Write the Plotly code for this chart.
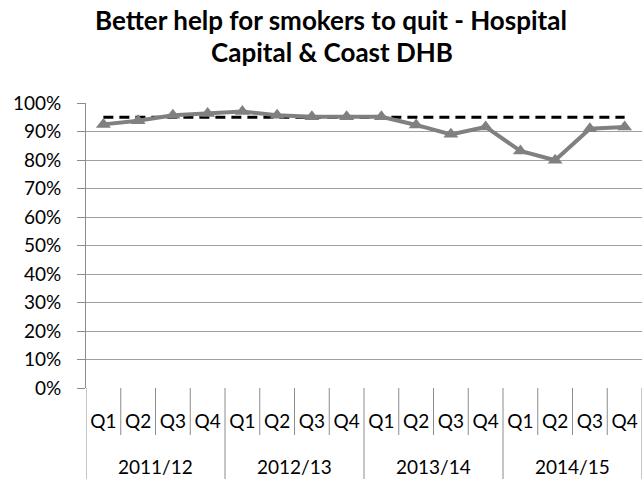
import plotly.graph_objects as go

years = ["2011/12", "2012/13", "2013/14", "2014/15"]
quarters = ["Q1", "Q2", "Q3", "Q4"]
values = [92.5, 93.8, 95.7, 96.3, 97.0, 95.7, 95.2, 95.2,
          95.2, 92.3, 89.0, 91.6, 83.2, 79.9, 91.0, 91.6]
target = [95] * 16
title_lines = ["Better help for smokers to quit - Hospital", "Capital & Coast DHB"]

n = len(years) * len(quarters)
xs = list(range(n))
qlabels = [q for y in years for q in quarters]

FONT = "Lato, Carlito, 'Open Sans', sans-serif"
GRID = "#a0a0a0"
AXIS = "#8c8c8c"

fig = go.Figure()
fig.add_trace(go.Scatter(
    x=xs, y=[v / 100 for v in target], mode="lines",
    line=dict(color="black", width=3, dash="10px,6px"),
    hoverinfo="skip", showlegend=False, cliponaxis=False))
fig.add_trace(go.Scatter(
    x=xs, y=[v / 100 for v in values], mode="lines+markers",
    line=dict(color="#808080", width=4),
    marker=dict(symbol="triangle-up", size=13, color="#808080"),
    showlegend=False, cliponaxis=False))

shapes = []
for k in range(n + 1):
    is_year = (k % len(quarters) == 0)
    shapes.append(dict(type="line", xref="x", yref="paper",
                       x0=k - 0.5, x1=k - 0.5, y0=0,
                       y1=-0.32 if is_year else -0.165,
                       line=dict(color=AXIS, width=1)))

annotations = []
for i, yr in enumerate(years):
    annotations.append(dict(text=yr, xref="x", yref="paper",
                            x=i * len(quarters) + (len(quarters) - 1) / 2, y=0,
                            yanchor="middle", yshift=-78, showarrow=False,
                            font=dict(family=FONT, size=19, color="#000")))
annotations.append(dict(text="<b>" + title_lines[0] + "</b>", xref="paper", yref="paper",
                        x=(331 - 86) / 556, y=1, yanchor="middle", yshift=83, showarrow=False,
                        font=dict(family=FONT, size=26, color="#000")))
annotations.append(dict(text="<b>" + title_lines[1] + "</b>", xref="paper", yref="paper",
                        x=(332 - 86) / 556, y=1, yanchor="middle", yshift=51, showarrow=False,
                        font=dict(family=FONT, size=26, color="#000")))

fig.update_layout(
    width=643, height=479,
    margin=dict(l=86, r=1, t=103, b=91),
    paper_bgcolor="white", plot_bgcolor="white",
    shapes=shapes, annotations=annotations,
    xaxis=dict(range=[-0.5, n - 0.5], tickmode="array", tickvals=xs, ticktext=qlabels,
               showgrid=False, zeroline=False, showline=False, ticks="",
               ticklabelstandoff=20,
               tickfont=dict(family=FONT, size=19, color="#000")),
    yaxis=dict(range=[0, 1], tickmode="array", tickvals=[i / 10 for i in range(11)],
               tickformat=".0%", showgrid=True, gridcolor=GRID, gridwidth=1,
               zeroline=False, showline=True, linecolor=AXIS, linewidth=1,
               ticks="outside", ticklen=8, tickcolor=AXIS,
               ticklabelstandoff=12,
               tickfont=dict(family=FONT, size=19, color="#000")),
)

fig.write_html("out.html", config={"displayModeBar": False},
               post_script="document.body.style.margin='0';")
